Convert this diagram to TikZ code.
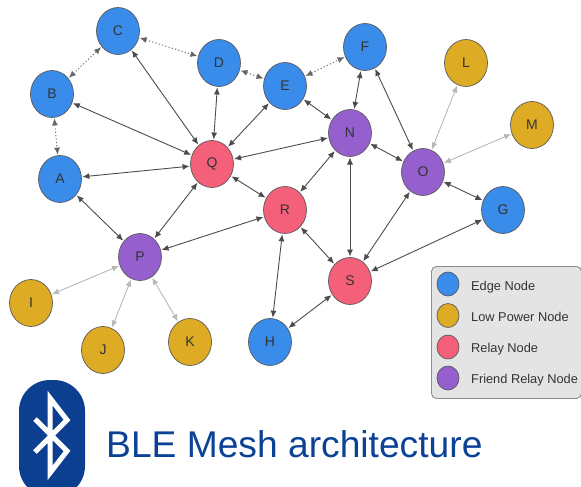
\documentclass[tikz,border=0pt]{standalone}
\usepackage{fontspec}
\setmainfont{Liberation Sans}
\usetikzlibrary{shapes.geometric,arrows.meta}
\definecolor{cblue}{HTML}{3A8CEB}
\definecolor{cgold}{HTML}{DDAB24}
\definecolor{cred}{HTML}{F4607A}
\definecolor{cpurple}{HTML}{9560CE}
\definecolor{bleblue}{HTML}{0C3F90}
\definecolor{titleblue}{HTML}{0B4295}
\definecolor{legfill}{HTML}{E4E4E4}
\tikzset{
  x=1pt,y=-1pt,
  meshnode/.style={ellipse,draw=black!65,line width=0.7pt,minimum width=43pt,minimum height=47pt,inner sep=0pt,outer sep=1pt,
    font=\fontsize{14}{14}\selectfont,text=black!80},
  edgeN/.style={meshnode,fill=cblue},
  lowN/.style={meshnode,fill=cgold},
  relayN/.style={meshnode,fill=cred},
  friendN/.style={meshnode,fill=cpurple},
  link/.style={{Latex[length=7pt,width=6pt]}-{Latex[length=7pt,width=6pt]},line width=0.9pt,draw=black!70},
  weak/.style={{Latex[length=7pt,width=6pt]}-{Latex[length=7pt,width=6pt]},line width=0.9pt,draw=black!28,color=black!28},
  dots/.style={{Latex[length=7pt,width=6pt]}-{Latex[length=7pt,width=6pt]},line width=0.9pt,draw=black!60,dash pattern=on 1.2pt off 2.2pt},
  legdot/.style={ellipse,draw=black!65,line width=0.7pt,minimum width=22pt,minimum height=24pt,inner sep=0pt},
  legtext/.style={anchor=base west,inner sep=0pt,font=\fontsize{12.8}{14}\selectfont,text=black!80},
}
\begin{document}
\begin{tikzpicture}
\useasboundingbox (0,0) rectangle (581,487);
% nodes
\node[edgeN] (A) at (60,179) {A};
\node[edgeN] (B) at (52,94) {B};
\node[edgeN] (C) at (118,31) {C};
\node[edgeN] (D) at (219,63) {D};
\node[edgeN] (E) at (285,86) {E};
\node[edgeN] (F) at (365,47) {F};
\node[edgeN] (G) at (503,210) {G};
\node[edgeN] (H) at (270,342) {H};
\node[lowN] (I) at (31,303) {I};
\node[lowN] (J) at (103,350) {J};
\node[lowN] (K) at (190,342) {K};
\node[lowN] (L) at (466,63) {L};
\node[lowN] (M) at (532,125) {M};
\node[friendN] (N) at (350,133) {N};
\node[friendN] (O) at (423,172) {O};
\node[friendN] (P) at (140,257) {P};
\node[relayN] (Q) at (212,164) {Q};
\node[relayN] (R) at (285,210) {R};
\node[relayN] (S) at (350,281) {S};
% dotted
\draw[dots] (C) -- (B);
\draw[dots] (C) -- (D);
\draw[dots] (D) -- (E);
\draw[dots] (E) -- (F);
\draw[dots] (B) -- (A);
% solid
\foreach \a/\b in {C/Q,D/Q,E/Q,B/Q,A/Q,N/Q,Q/R,Q/P,A/P,P/R,R/N,R/H,R/S,E/N,F/N,F/O,N/O,N/S,O/S,O/G,G/S,H/S}
  \draw[link] (\a) -- (\b);
% light
\foreach \a/\b in {L/O,M/O,I/P,J/P,K/P}
  \draw[weak] (\a) -- (\b);
% legend
\node[draw=black!45,fill=legfill,line width=0.9pt,rounded corners=5pt,minimum width=150pt,minimum height=132pt,inner sep=0pt,anchor=north west] (legend) at (431,266) {};
\node[legdot,fill=cblue] (l1) at (448,284) {};
\node[legdot,fill=cgold] (l2) at (448,315.5) {};
\node[legdot,fill=cred] (l3) at (448,347) {};
\node[legdot,fill=cpurple] (l4) at (448,378) {};
\node[legtext] (t1) at (471,290) {Edge Node};
\node[legtext] (t2) at (471,321) {Low Power Node};
\node[legtext] (t3) at (471,352) {Relay Node};
\node[legtext] (t4) at (471,383) {Friend Relay Node};
% logo
\fill[bleblue,rounded corners=31pt] (19,380) rectangle (85,497);
\draw[white,line width=5pt,miter limit=10] (35,452) -- (67,420) -- (50,398) -- (50,473) -- (67,451) -- (35,419);
% title
\node[anchor=base west,inner sep=0pt,text=titleblue,font=\fontsize{37.2}{40}\selectfont] (title) at (106,457) {BLE Mesh architecture};
\end{tikzpicture}
\end{document}
